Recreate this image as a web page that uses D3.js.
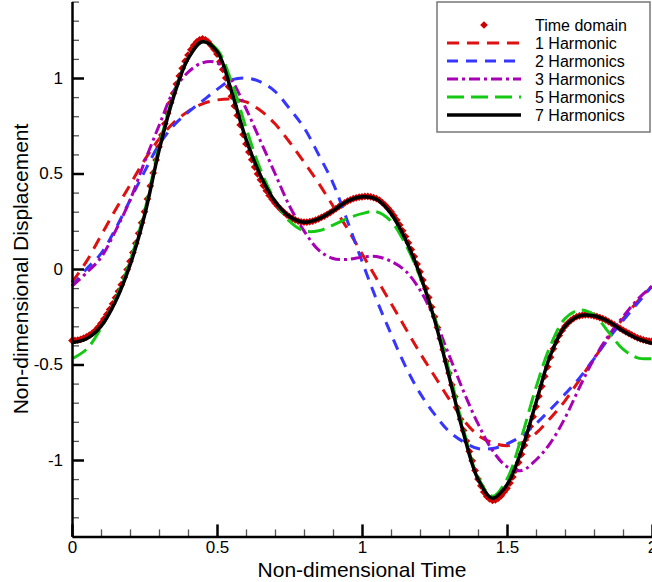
<!DOCTYPE html>
<html>
<head>
<meta charset="utf-8">
<script src="https://cdn.jsdelivr.net/npm/d3@7"></script>
<style>
  html, body { margin: 0; padding: 0; background: #ffffff; }
  svg { display: block; }
  text { font-family: "Liberation Sans", Arial, Helvetica, sans-serif; }
</style>
</head>
<body>
<svg id="chart" width="652" height="582"></svg>
<script>
// ---------- DATA ----------
// sample times for harmonic reconstructions (every 0.05)
const tCoarse = [0,0.05,0.1,0.15,0.2,0.25,0.3,0.35,0.4,0.45,0.5,0.55,0.6,0.65,0.7,0.75,0.8,0.85,0.9,0.95,
                 1,1.05,1.1,1.15,1.2,1.25,1.3,1.35,1.4,1.45,1.5,1.55,1.6,1.65,1.7,1.75,1.8,1.85,1.9,1.95,2];

const harm1 = [-0.07,0.04,0.175,0.31,0.44,0.57,0.68,0.765,0.825,0.865,0.885,0.89,0.875,0.83,0.76,0.665,0.56,0.45,0.33,0.21,
               0.08,-0.05,-0.18,-0.31,-0.44,-0.56,-0.68,-0.79,-0.87,-0.91,-0.925,-0.91,-0.86,-0.78,-0.69,-0.58,-0.47,-0.36,-0.26,-0.17,-0.09];

const harm2 = [-0.09,0.0,0.08,0.21,0.36,0.51,0.65,0.75,0.82,0.88,0.94,0.99,1.0,0.98,0.93,0.84,0.74,0.60,0.45,0.25,
               0.04,-0.16,-0.34,-0.51,-0.65,-0.76,-0.85,-0.905,-0.94,-0.94,-0.915,-0.875,-0.81,-0.735,-0.655,-0.57,-0.47,-0.365,-0.27,-0.18,-0.09];

const harm3 = [-0.09,-0.02,0.06,0.20,0.36,0.56,0.75,0.93,1.03,1.08,1.08,0.99,0.84,0.67,0.50,0.33,0.20,0.10,0.055,0.05,
               0.062,0.065,0.04,-0.01,-0.11,-0.26,-0.45,-0.64,-0.81,-0.95,-1.035,-1.055,-1.0,-0.91,-0.78,-0.62,-0.47,-0.35,-0.25,-0.16,-0.09];

const harm5 = [-0.47,-0.42,-0.31,-0.16,0.04,0.30,0.64,0.91,1.10,1.19,1.15,0.98,0.74,0.52,0.36,0.25,0.20,0.20,0.23,0.265,
               0.29,0.30,0.25,0.13,-0.04,-0.25,-0.53,-0.84,-1.09,-1.19,-1.10,-0.88,-0.62,-0.40,-0.26,-0.215,-0.24,-0.33,-0.42,-0.465,-0.47];

const harm7 = [-0.385,-0.365,-0.30,-0.17,0.02,0.28,0.62,0.90,1.10,1.19,1.14,0.93,0.68,0.49,0.355,0.275,0.245,0.262,0.305,0.355,
               0.378,0.365,0.29,0.155,-0.03,-0.265,-0.56,-0.86,-1.10,-1.20,-1.13,-0.95,-0.70,-0.45,-0.30,-0.245,-0.245,-0.275,-0.325,-0.365,-0.39];

// time-domain samples (every 0.01 from 0 to 2)
const tdStart = 0, tdStep = 0.01;
const timeDomain = [
 -0.375,-0.374,-0.372,-0.368,-0.362,-0.355,-0.346,-0.336,-0.323,-0.305,
 -0.285,-0.262,-0.238,-0.212,-0.182,-0.150,-0.117,-0.082,-0.044,-0.003,
  0.040, 0.086, 0.135, 0.187, 0.242, 0.300, 0.367, 0.435, 0.503, 0.571,
  0.640, 0.702, 0.760, 0.816, 0.870, 0.920, 0.968, 1.011, 1.051, 1.088,
  1.120, 1.148, 1.171, 1.189, 1.200, 1.205, 1.200, 1.188, 1.170, 1.150,
  1.125, 1.085, 1.045, 1.000, 0.955, 0.905, 0.854, 0.804, 0.754, 0.704,
  0.655, 0.612, 0.572, 0.534, 0.498, 0.467, 0.437, 0.410, 0.385, 0.365,
  0.345, 0.328, 0.312, 0.298, 0.285, 0.274, 0.265, 0.257, 0.251, 0.247,
  0.245, 0.245, 0.248, 0.251, 0.256, 0.262, 0.270, 0.277, 0.286, 0.295,
  0.305, 0.316, 0.326, 0.336, 0.346, 0.355, 0.362, 0.368, 0.373, 0.376,
  0.378, 0.380, 0.380, 0.378, 0.374, 0.368, 0.360, 0.348, 0.334, 0.318,
  0.300, 0.279, 0.256, 0.230, 0.200, 0.170, 0.137, 0.102, 0.065, 0.026,
 -0.015,-0.058,-0.102,-0.149,-0.199,-0.250,-0.306,-0.364,-0.423,-0.483,
 -0.545,-0.607,-0.668,-0.728,-0.787,-0.845,-0.901,-0.955,-1.004,-1.055,
 -1.100,-1.135,-1.168,-1.190,-1.204,-1.212,-1.209,-1.200,-1.187,-1.167,
 -1.148,-1.121,-1.089,-1.053,-1.013,-0.970,-0.923,-0.874,-0.824,-0.773,
 -0.720,-0.666,-0.614,-0.562,-0.512,-0.462,-0.418,-0.380,-0.348,-0.322,
 -0.300,-0.283,-0.269,-0.258,-0.250,-0.245,-0.242,-0.240,-0.240,-0.242,
 -0.245,-0.249,-0.254,-0.260,-0.267,-0.275,-0.284,-0.293,-0.302,-0.311,
 -0.320,-0.329,-0.337,-0.345,-0.353,-0.360,-0.366,-0.371,-0.375,-0.377,
 -0.378];

const xMajorTicks = [0, 0.5, 1, 1.5, 2];
const xTickLabels = ["0", "0.5", "1", "1.5", "2"];
const yMajorTicks = [-1, -0.5, 0, 0.5, 1];
const yTickLabels = ["-1", "-0.5", "0", "0.5", "1"];
const legendLabels = ["Time domain", "1 Harmonic", "2 Harmonics", "3 Harmonics", "5 Harmonics", "7 Harmonics"];

// ---------- LAYOUT ----------
const svg = d3.select("#chart");
const L = 72, R = 652, T = 1.6, B = 536.4;
const x = d3.scaleLinear().domain([0, 2]).range([L, R]);
const y = d3.scaleLinear().domain([-1.4, 1.4]).range([B, T]);

const series = [
  { name: legendLabels[1], values: harm1, color: "#dd1111", dash: "12,8",      width: 3 },
  { name: legendLabels[2], values: harm2, color: "#3636ff", dash: "11,8",      width: 3 },
  { name: legendLabels[3], values: harm3, color: "#a800b4", dash: "11,4,3,4",  width: 3 },
  { name: legendLabels[4], values: harm5, color: "#14c814", dash: "17,7",      width: 3 },
  { name: legendLabels[5], values: harm7, color: "#000000", dash: null,        width: 3.5 }
];

// ---------- TIME DOMAIN MARKERS ----------
const diamond = d3.symbol().type(d3.symbolSquare).size(30);
svg.append("g").selectAll("path")
  .data(timeDomain)
  .join("path")
  .attr("d", diamond)
  .attr("fill", "#d00000")
  .attr("transform", (d, i) => `translate(${x(tdStart + i * tdStep)},${y(d)}) rotate(45)`);

// ---------- HARMONIC LINES ----------
const line = d3.line()
  .x((d, i) => x(tCoarse[i]))
  .y(d => y(d))
  .curve(d3.curveCatmullRom.alpha(0.5));

series.forEach(s => {
  svg.append("path")
    .datum(s.values)
    .attr("d", line)
    .attr("fill", "none")
    .attr("stroke", s.color)
    .attr("stroke-width", s.width)
    .attr("stroke-dasharray", s.dash)
    .attr("stroke-linejoin", "round");
});

// ---------- AXES ----------
const xMinor = d3.range(0, 21).map(i => i / 10).filter(v => Math.abs(v * 2 - Math.round(v * 2)) > 1e-6);
const yMinor = d3.range(-14, 15).map(i => i / 10).filter(v => Math.abs(v * 2 - Math.round(v * 2)) > 1e-6);

const gxMinor = svg.append("g").attr("transform", `translate(0,${B})`)
  .call(d3.axisBottom(x).tickValues(xMinor).tickSize(-7).tickSizeOuter(0).tickFormat(""));
const gyMinor = svg.append("g").attr("transform", `translate(${L},0)`)
  .call(d3.axisLeft(y).tickValues(yMinor).tickSize(-7).tickSizeOuter(0).tickFormat(""));
[gxMinor, gyMinor].forEach(g => {
  g.select(".domain").remove();
  g.selectAll("line").attr("stroke", "#555").attr("stroke-width", 1.3);
});

const gx = svg.append("g").attr("transform", `translate(0,${B})`)
  .call(d3.axisBottom(x).tickValues(xMajorTicks).tickSize(-12).tickSizeOuter(0).tickPadding(5)
        .tickFormat((d, i) => xTickLabels[i]));
const gy = svg.append("g").attr("transform", `translate(${L},0)`)
  .call(d3.axisLeft(y).tickValues(yMajorTicks).tickSize(-12).tickSizeOuter(0).tickPadding(9)
        .tickFormat((d, i) => yTickLabels[i]));
[gx, gy].forEach(g => {
  g.select(".domain").attr("stroke", "#000").attr("stroke-width", 2.5);
  g.selectAll(".tick line").attr("stroke", "#000").attr("stroke-width", 2.5);
  g.selectAll(".tick text").attr("fill", "#000").style("font-size", "17px")
    .style("font-family", '"Liberation Sans", Arial, sans-serif');
});

// axis titles
svg.append("text")
  .attr("x", (L + R) / 2).attr("y", 577)
  .attr("text-anchor", "middle")
  .style("font-size", "21px").attr("fill", "#000")
  .text("Non-dimensional Time");
svg.append("text")
  .attr("transform", `translate(28,${(T + B) / 2}) rotate(-90)`)
  .attr("text-anchor", "middle")
  .style("font-size", "21px").attr("fill", "#000")
  .text("Non-dimensional Displacement");

// ---------- LEGEND ----------
const lg = svg.append("g");
lg.append("rect")
  .attr("x", 437).attr("y", 2).attr("width", 213).attr("height", 130)
  .attr("fill", "#fff").attr("stroke", "#777").attr("stroke-width", 1.5);
const rowY = i => 25 + i * 18;
lg.append("path")
  .attr("d", diamond)
  .attr("fill", "#d00000")
  .attr("transform", `translate(484,${rowY(0)}) rotate(45)`);
series.forEach((s, k) => {
  lg.append("line")
    .attr("x1", 447).attr("x2", 521)
    .attr("y1", rowY(k + 1)).attr("y2", rowY(k + 1))
    .attr("stroke", s.color).attr("stroke-width", s.width)
    .attr("stroke-dasharray", s.dash);
});
legendLabels.forEach((lab, i) => {
  lg.append("text")
    .attr("x", 535).attr("y", rowY(i)).attr("dy", "0.35em")
    .style("font-size", "16px").attr("fill", "#000")
    .text(lab);
});
</script>
</body>
</html>
